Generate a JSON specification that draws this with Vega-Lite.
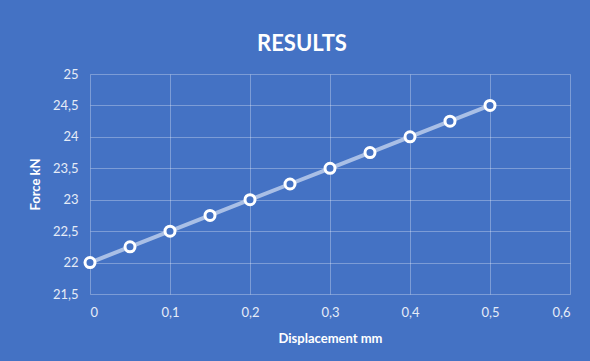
{
  "$schema": "https://vega.github.io/schema/vega-lite/v6.json",
  "autosize": {"type": "none"},
  "width": 480,
  "height": 220,
  "padding": {"left": 90, "top": 74, "right": 20, "bottom": 67},
  "background": "#4472C4",
  "config": {
    "locale": {"number": {"decimal": ",", "thousands": ".", "grouping": [3], "currency": ["", " €"]}},
    "view": {"stroke": null},
    "font": "Lato"
  },
  "title": {
    "text": "RESULTS",
    "font": "Lato",
    "fontSize": 22,
    "fontWeight": "bold",
    "color": "#FFFFFF",
    "dx": -28,
    "offset": 12
  },
  "data": {
    "values": [
      {"displacement": 0, "force": 22},
      {"displacement": 0.05, "force": 22.25},
      {"displacement": 0.1, "force": 22.5},
      {"displacement": 0.15, "force": 22.75},
      {"displacement": 0.2, "force": 23},
      {"displacement": 0.25, "force": 23.25},
      {"displacement": 0.3, "force": 23.5},
      {"displacement": 0.35, "force": 23.75},
      {"displacement": 0.4, "force": 24},
      {"displacement": 0.45, "force": 24.25},
      {"displacement": 0.5, "force": 24.5}
    ]
  },
  "encoding": {
    "x": {
      "field": "displacement",
      "type": "quantitative",
      "scale": {"domain": [0, 0.6], "nice": false},
      "axis": {
        "title": "Displacement mm",
        "values": [0, 0.1, 0.2, 0.3, 0.4, 0.5, 0.6],
        "format": ".1~f",
        "domain": false,
        "ticks": false,
        "grid": true,
        "gridColor": "#FFFFFF",
        "gridOpacity": 0.3,
        "gridWidth": 1,
        "labelColor": "#E6ECF7",
        "labelFontSize": 13,
        "labelPadding": 12,
        "titleColor": "#FFFFFF",
        "titleFontSize": 13,
        "titleFontWeight": "bold",
        "titlePadding": 13
      }
    },
    "y": {
      "field": "force",
      "type": "quantitative",
      "scale": {"domain": [21.5, 25], "nice": false, "zero": false},
      "axis": {
        "title": "Force kN",
        "values": [21.5, 22, 22.5, 23, 23.5, 24, 24.5, 25],
        "format": ".1~f",
        "domain": false,
        "ticks": false,
        "grid": true,
        "gridColor": "#FFFFFF",
        "gridOpacity": 0.3,
        "gridWidth": 1,
        "labelColor": "#E6ECF7",
        "labelFontSize": 13,
        "labelPadding": 12,
        "titleColor": "#FFFFFF",
        "titleFontSize": 13,
        "titleFontWeight": "bold",
        "titlePadding": 10
      }
    }
  },
  "layer": [
    {
      "mark": {"type": "line", "color": "#A9BFE6", "strokeWidth": 4}
    },
    {
      "mark": {"type": "point", "filled": true, "fill": "#4472C4", "stroke": "#FFFFFF", "strokeWidth": 3, "size": 100, "opacity": 1}
    }
  ]
}
